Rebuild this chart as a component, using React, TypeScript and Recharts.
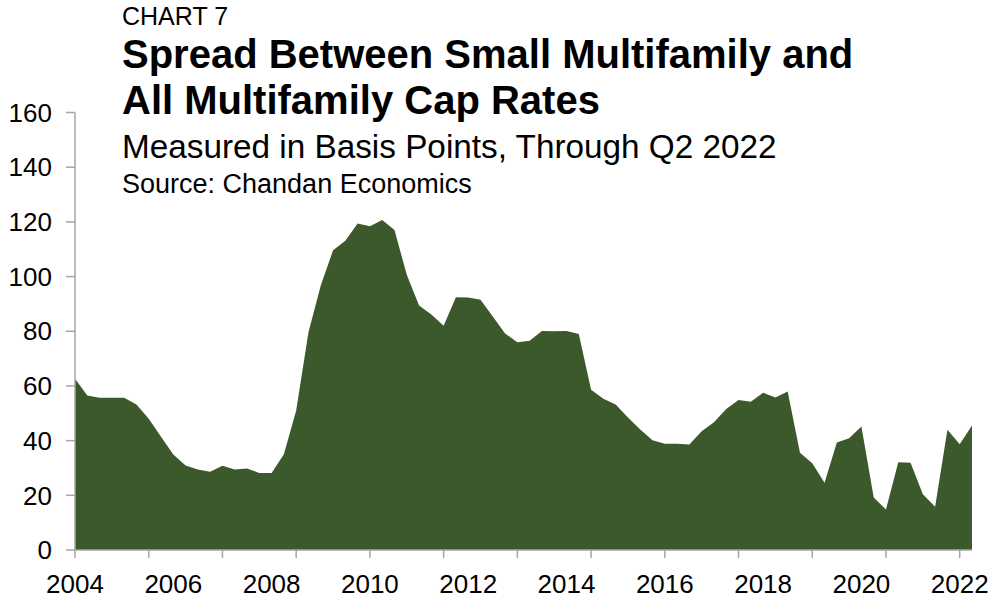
import React from "react";
import { AreaChart, Area, XAxis, YAxis } from "recharts";

// quarterly spread, 2004 Q1 .. 2022 Q2 (basis points)
const startYear = 2004;
const spread = [
  62.6, 56.5, 55.7, 55.7, 55.7, 53.2, 48.0, 41.4,
  34.9, 30.9, 29.4, 28.6, 30.8, 29.4, 29.8, 28.2,
  28.2, 35.0, 51.0, 79.6, 96.7, 109.6, 113.1, 119.4,
  118.4, 120.7, 117.0, 100.7, 89.4, 86.1, 82.0, 92.4,
  92.3, 91.5, 85.4, 79.2, 76.0, 76.5, 80.1, 80.0,
  80.1, 79.0, 58.6, 55.3, 53.2, 48.5, 44.1, 40.1,
  38.9, 38.9, 38.6, 43.4, 46.7, 51.6, 54.9, 54.2,
  57.5, 55.8, 58.0, 35.6, 31.7, 24.6, 39.3, 40.9,
  45.2, 19.2, 14.8, 32.1, 31.9, 20.4, 15.8, 44.0,
  38.7, 45.5,
];
const yTicks = [0, 20, 40, 60, 80, 100, 120, 140, 160];
const yearLabels = ["2004", "2006", "2008", "2010", "2012", "2014", "2016", "2018", "2020", "2022"];

const quarters = spread.map((_, i) => `${startYear + Math.floor(i / 4)} Q${(i % 4) + 1}`);
const data = quarters.map((q, i) => ({ quarter: q, spread: spread[i] }));

const FONT = "'Liberation Sans', Arial, Helvetica, sans-serif";
const AXIS_GRAY = "#a6a6a6";

// tick marks every 6 quarters, year labels every 8 quarters
const XTick = (props: any) => {
  const { x, y, index } = props;
  return (
    <g>
      {index % 6 === 0 && (
        <line x1={x} x2={x} y1={y} y2={y + 8} stroke={AXIS_GRAY} strokeWidth={1.5} />
      )}
      {index % 8 === 0 && (
        <text x={x} y={y + 43} textAnchor="middle" fill="#000" fontSize={26} fontFamily={FONT}>
          {yearLabels[index / 8]}
        </text>
      )}
    </g>
  );
};

const textStyle = (size: number, top: number, bold = false): React.CSSProperties => ({
  position: "absolute",
  left: 122,
  top,
  fontFamily: FONT,
  fontSize: size,
  lineHeight: 1,
  fontWeight: bold ? 700 : 400,
  color: "#000",
  whiteSpace: "nowrap",
});

const App: React.FC = () => {
  return (
    <div style={{ position: "absolute", left: 0, top: 0, width: 992, height: 598 }}>
      <AreaChart
        width={992}
        height={598}
        data={data}
        margin={{ top: 112.5, right: 20, bottom: 0, left: 0 }}
      >
        <XAxis
          dataKey="quarter"
          interval={0}
          height={48}
          tickSize={0}
          tickMargin={0}
          tickLine={false}
          tick={<XTick />}
          axisLine={{ stroke: AXIS_GRAY, strokeWidth: 1.5 }}
        />
        <YAxis
          domain={[0, 160]}
          ticks={yTicks}
          width={75}
          tickSize={9}
          tickMargin={14}
          tickLine={{ stroke: AXIS_GRAY, strokeWidth: 1.5 }}
          axisLine={{ stroke: AXIS_GRAY, strokeWidth: 1.5 }}
          tick={{ fill: "#000", fontSize: 26, fontFamily: FONT }}
        />
        <Area
          type="linear"
          dataKey="spread"
          stroke="none"
          fill="#3c592b"
          fillOpacity={1}
          dot={false}
          activeDot={false}
          isAnimationActive={false}
        />
      </AreaChart>
      <div style={textStyle(25, 4)}>CHART 7</div>
      <div style={textStyle(40, 34, true)}>Spread Between Small Multifamily and</div>
      <div style={textStyle(40, 80, true)}>All Multifamily Cap Rates</div>
      <div style={textStyle(33.3, 130)}>Measured in Basis Points, Through Q2 2022</div>
      <div style={textStyle(27, 171)}>Source: Chandan Economics</div>
    </div>
  );
};

export default App;
